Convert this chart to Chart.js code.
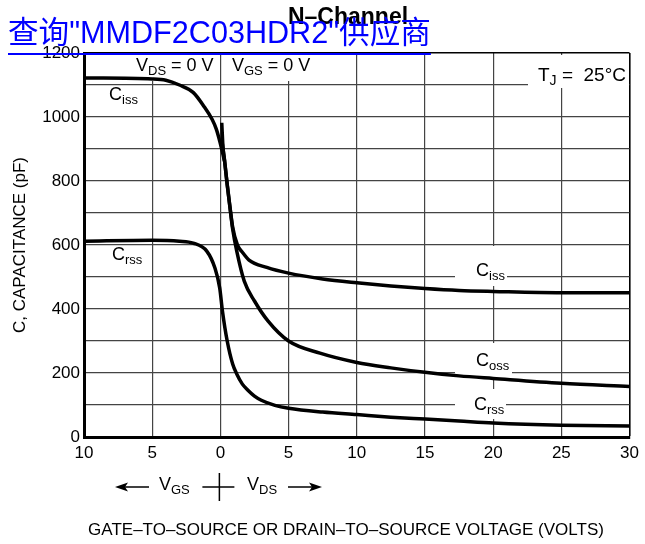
<!DOCTYPE html>
<html>
<head>
<meta charset="utf-8">
<script src="https://cdn.jsdelivr.net/npm/chart.js@4.4.1/dist/chart.umd.min.js"></script>
<style>
body{margin:0;background:#fff;}
</style>
</head>
<body>
<canvas id="myChart" width="645" height="544"></canvas>
<script>
// VGS side is negative on the axis, VDS side positive
var cissGsV = [-10, -5, -4, -3, -2, -1.2, -0.6, -0.3, -0.05, 0.15, 0.3];
var cissGsC = [1122, 1119, 1115, 1100, 1077, 1033, 992, 962, 925, 890, 862];

var cissDsV = [0.1, 0.2, 0.3, 0.5, 0.7, 0.9, 1.25, 1.6, 2.1, 3.4, 5, 7.5, 10, 12.5, 15, 17.5, 20, 25, 30];
var cissDsC = [982, 900, 866, 790, 720, 656, 600, 578, 553, 530, 512, 494, 482, 472, 464, 458, 455, 451, 451];

var cossV = [0.1, 0.3, 0.5, 0.7, 0.9, 1.2, 1.75, 2.5, 3.5, 5, 7.3, 10, 12.5, 15, 17.5, 20, 25, 30];
var cossC = [930, 866, 788, 718, 650, 581, 487, 425, 362, 300, 262, 233, 216, 202, 191, 183, 168, 158];

var crssV = [-10, -5, -3, -2, -1, -0.4, -0.05, 0.15, 0.5, 0.9, 1.2, 1.6, 2, 2.5, 3, 4, 5, 7.5, 10, 12.5, 15, 17.5, 20, 25, 30];
var crssC = [612, 615, 612, 606, 581, 528, 466, 394, 300, 228, 197, 166, 147, 128, 115, 99, 90, 78, 70, 62, 56, 50, 44, 37, 34];

var xTickLabels = ['10', '5', '0', '5', '10', '15', '20', '25', '30'];
var yTickLabels = [0, 200, 400, 600, 800, 1000, 1200];

var fuente = '"Liberation Sans", "Noto Sans CJK SC", sans-serif';

function puntos(xs, ys){
    var p = [];
    for (var i = 0; i < xs.length; i++) p.push({x: xs[i], y: ys[i]});
    return p;
}

function conSub(ctx, x, y, a, sub, b, size){
    ctx.font = size + 'px ' + fuente;
    ctx.fillText(a, x, y);
    x += ctx.measureText(a).width;
    ctx.font = Math.round(size * 0.74) + 'px ' + fuente;
    ctx.fillText(sub, x, y + 4);
    x += ctx.measureText(sub).width;
    if (b) {
        ctx.font = size + 'px ' + fuente;
        ctx.fillText(b, x, y);
    }
}

function flecha(ctx, x1, x2, y){
    var d = x2 > x1 ? 1 : -1;
    ctx.beginPath();
    ctx.moveTo(x1, y);
    ctx.lineTo(x2 - d * 6, y);
    ctx.stroke();
    ctx.beginPath();
    ctx.moveTo(x2, y);
    ctx.lineTo(x2 - d * 13, y - 4.5);
    ctx.lineTo(x2 - d * 10, y);
    ctx.lineTo(x2 - d * 13, y + 4.5);
    ctx.closePath();
    ctx.fill();
}

var etiquetas = {
    id: 'etiquetas',
    beforeDatasetsDraw: function(chart){
        var ctx = chart.ctx;
        ctx.save();
        // white boxes that break the grid behind the labels
        var cajas = [
            [98, 86, 54, 20], [102, 246, 40, 22],
            [455, 246, 52, 40], [455, 343, 57, 36], [455, 389, 51, 30],
            [130, 55, 88, 26], [225, 55, 87, 26], [528, 55, 101, 33]
        ];
        ctx.fillStyle = '#fff';
        cajas.forEach(function(b){ ctx.fillRect(b[0], b[1], b[2], b[3]); });

        ctx.fillStyle = '#000';
        ctx.textBaseline = 'alphabetic';
        ctx.textAlign = 'left';
        conSub(ctx, 109, 100, 'C', 'iss', '', 18);
        conSub(ctx, 112, 260, 'C', 'rss', '', 18);
        conSub(ctx, 476, 276, 'C', 'iss', '', 18);
        conSub(ctx, 476, 366, 'C', 'oss', '', 18);
        conSub(ctx, 474, 410, 'C', 'rss', '', 18);
        conSub(ctx, 136, 71, 'V', 'DS', ' = 0 V', 18);
        conSub(ctx, 232, 71, 'V', 'GS', ' = 0 V', 18);
        conSub(ctx, 538, 81, 'T', 'J', ' =  25\u00B0C', 19);
        ctx.restore();
    },
    afterDraw: function(chart){
        var ctx = chart.ctx;
        var x0 = chart.scales.x.getPixelForValue(0) - 1;
        ctx.save();
        ctx.fillStyle = '#000';
        ctx.strokeStyle = '#000';
        ctx.lineWidth = 1.5;
        ctx.textBaseline = 'alphabetic';
        ctx.textAlign = 'left';

        // V_GS / V_DS direction row
        flecha(ctx, 149, 115, 487);
        flecha(ctx, 288, 322, 487);
        conSub(ctx, 159, 490, 'V', 'GS', '', 18);
        conSub(ctx, 247, 490, 'V', 'DS', '', 18);
        ctx.beginPath();
        ctx.moveTo(x0, 473); ctx.lineTo(x0, 501);
        ctx.moveTo(x0 - 17, 487); ctx.lineTo(x0 + 15, 487);
        ctx.stroke();

        ctx.font = '17px ' + fuente;
        ctx.textAlign = 'center';
        ctx.fillText('GATE\u2013TO\u2013SOURCE OR DRAIN\u2013TO\u2013SOURCE VOLTAGE (VOLTS)', 346, 535);

        ctx.font = 'bold 23px ' + fuente;
        ctx.fillText('N\u2013Channel', 348, 24);

        // blue link text on top
        ctx.textAlign = 'left';
        ctx.fillStyle = '#0000ff';
        ctx.font = '30.6px ' + fuente;
        var t = '查询"MMDF2C03HDR2"供应商';
        ctx.fillText(t, 8, 43);
        ctx.fillRect(8, 53, ctx.measureText(t).width, 2);
        ctx.restore();
    }
};

var ctx = document.getElementById('myChart');
var chart = new Chart(ctx, {
    type: 'line',
    data: {
        datasets: [
            {label: 'Ciss (VGS)', data: puntos(cissGsV, cissGsC)},
            {label: 'Ciss (VDS)', data: puntos(cissDsV, cissDsC)},
            {label: 'Coss', data: puntos(cossV, cossC)},
            {label: 'Crss', data: puntos(crssV, crssC)}
        ]
    },
    options: {
        responsive: false,
        animation: false,
        devicePixelRatio: 1,
        layout: {padding: {top: 53, right: 13, left: 0, bottom: 0}},
        elements: {
            line: {borderColor: '#000', borderWidth: 3.5, fill: false, cubicInterpolationMode: 'monotone'},
            point: {radius: 0}
        },
        plugins: {legend: {display: false}, tooltip: {enabled: false}},
        scales: {
            x: {
                type: 'linear',
                min: -10,
                max: 30,
                afterFit: function(axis){ axis.height = 107; },
                ticks: {
                    stepSize: 5,
                    color: '#000',
                    padding: 6,
                    maxRotation: 0,
                    font: {family: fuente, size: 17},
                    callback: function(v, i){ return xTickLabels[i]; }
                },
                grid: {
                    drawTicks: false,
                    color: function(c){ return c.tick && c.tick.value === 30 ? '#000' : '#444'; },
                    lineWidth: function(c){ return c.tick && c.tick.value === 30 ? 1.6 : 1.2; }
                },
                border: {color: '#000', width: 3}
            },
            y: {
                min: 0,
                max: 1200,
                afterFit: function(axis){ axis.width = 84; },
                title: {
                    display: true,
                    text: 'C, CAPACITANCE (pF)',
                    color: '#000',
                    font: {family: fuente, size: 17},
                    padding: {top: 10, bottom: 0}
                },
                ticks: {
                    stepSize: 100,
                    color: '#000',
                    padding: 4,
                    font: {family: fuente, size: 17},
                    callback: function(v){ return yTickLabels.indexOf(v) >= 0 ? v : ''; }
                },
                grid: {
                    drawTicks: false,
                    color: function(c){ return c.tick && c.tick.value === 1200 ? '#000' : '#444'; },
                    lineWidth: function(c){ return c.tick && c.tick.value === 1200 ? 1.6 : 1.2; }
                },
                border: {color: '#000', width: 3}
            }
        }
    },
    plugins: [etiquetas]
});
</script>
</body>
</html>
